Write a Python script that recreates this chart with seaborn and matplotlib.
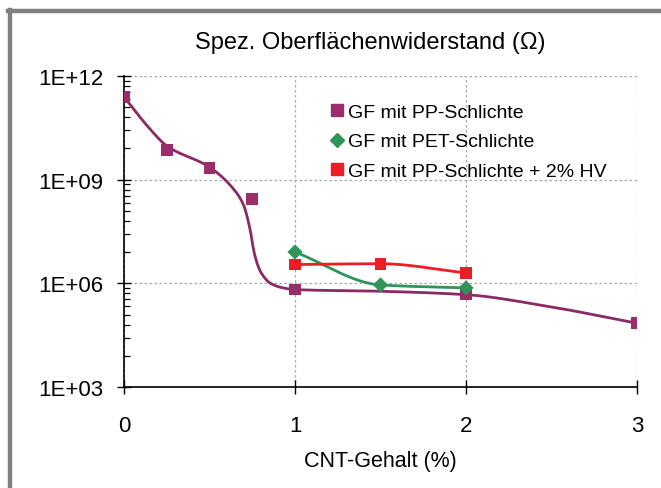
import numpy as np
import pandas as pd
import matplotlib
matplotlib.use("Agg")
import matplotlib.pyplot as plt
import matplotlib.ticker as mticker
from matplotlib.lines import Line2D
import seaborn as sns

# ---- data ----
pp_x = [0, 0.25, 0.5, 0.75, 1, 2, 3]
pp_y = [2.5e11, 7.2e9, 2.2e9, 2.8e8, 6.6e5, 5.0e5, 7.0e4]
pet_x = [1, 1.5, 2]
pet_y = [8.1e6, 9.0e5, 7.4e5]
hv_x = [1, 1.5, 2]
hv_y = [3.5e6, 3.7e6, 2.0e6]
# smoothed trend line for PP series
pp_curve_x = [0, 0.15, 0.25, 0.5, 0.64, 0.70, 0.74, 0.76, 0.80, 0.86, 0.93, 1.0, 1.5, 2.0, 2.47, 3.0]
pp_curve_y = [2.5e11, 3.0e10, 9.5e9, 2.3e9, 5.4e8, 1.8e8, 3.1e7, 8.1e6, 2.1e6, 9.8e5, 7.4e5, 6.6e5, 5.9e5, 4.7e5, 2.2e5, 7.0e4]

labels = ["GF mit PP-Schlichte", "GF mit PET-Schlichte", "GF mit PP-Schlichte + 2% HV"]
title = "Spez. Oberflächenwiderstand (\u03a9)"
xlabel = "CNT-Gehalt (%)"
y_ticks = [1e3, 1e6, 1e9, 1e12]
y_ticklabels = ["1E+03", "1E+06", "1E+09", "1E+12"]
x_ticks = [0, 1, 2, 3]

c_pp = "#9B2D6A"
c_pp_line = "#8A2A64"
c_pet = "#2E9457"
c_hv = "#EE1C25"


def pchip(x, y, xs):
    x = np.asarray(x, float); y = np.asarray(y, float)
    h = np.diff(x); d = np.diff(y) / h
    n = len(x)
    m = np.zeros(n)
    m[0] = d[0]; m[-1] = d[-1]
    for k in range(1, n - 1):
        if d[k - 1] * d[k] <= 0:
            m[k] = 0
        else:
            w1 = 2 * h[k] + h[k - 1]; w2 = h[k] + 2 * h[k - 1]
            m[k] = (w1 + w2) / (w1 / d[k - 1] + w2 / d[k])
    out = np.empty_like(xs)
    for i, xv in enumerate(xs):
        k = min(np.searchsorted(x, xv, side="right") - 1, n - 2)
        k = max(k, 0)
        t = (xv - x[k]) / h[k]
        h00 = 2*t**3 - 3*t**2 + 1; h10 = t**3 - 2*t**2 + t
        h01 = -2*t**3 + 3*t**2; h11 = t**3 - t**2
        out[i] = h00*y[k] + h10*h[k]*m[k] + h01*y[k+1] + h11*h[k]*m[k+1]
    return out


def smooth(x, y, n=300):
    xs = np.linspace(min(x), max(x), n)
    ys = 10 ** pchip(x, np.log10(y), xs)
    return pd.DataFrame({"x": xs, "y": ys})


plt.rcParams["font.family"] = ["Liberation Sans", "DejaVu Sans"]
fig = plt.figure(figsize=(6.61, 4.89), dpi=100)
ax = fig.add_axes([0.1876, 0.2065, 0.7761, 0.636])

sns.lineplot(data=smooth(pp_curve_x, pp_curve_y), x="x", y="y", ax=ax, color=c_pp_line,
             lw=2.0, sort=False, estimator=None, zorder=3)
sns.lineplot(data=smooth(pet_x, pet_y), x="x", y="y", ax=ax, color=c_pet,
             lw=2.0, sort=False, estimator=None, zorder=3)
sns.lineplot(data=smooth(hv_x, hv_y), x="x", y="y", ax=ax, color=c_hv,
             lw=2.0, sort=False, estimator=None, zorder=3)

sns.scatterplot(x=pp_x, y=pp_y, ax=ax, marker="s", s=72, color=c_pp, edgecolor="none", zorder=4)
sns.scatterplot(x=pet_x, y=pet_y, ax=ax, marker="D", s=60, color=c_pet, edgecolor="none", zorder=4)
sns.scatterplot(x=hv_x, y=hv_y, ax=ax, marker="s", s=72, color=c_hv, edgecolor="none", zorder=4)

ax.set_yscale("log")
ax.set_xlim(0, 3)
ax.set_ylim(1e3, 1e12)
ax.set_yticks(y_ticks)
ax.set_yticklabels(y_ticklabels)
# Excel-style minor ticks on a base-1000 log axis: 1000^n * k^3
minor = [10.0 ** (3 * n) * k ** 3 for n in range(1, 4) for k in range(2, 10)]
ax.yaxis.set_minor_locator(mticker.FixedLocator(minor))
ax.yaxis.set_minor_formatter(mticker.NullFormatter())
ax.set_xticks(x_ticks)
ax.set_xticklabels([str(v) for v in x_ticks])
ax.tick_params(axis="both", which="major", direction="inout", length=10, width=1, labelsize=16, color="black")
ax.tick_params(axis="x", which="major", pad=15)
ax.tick_params(axis="y", which="major", pad=10)
ax.tick_params(axis="y", which="minor", direction="in", length=4, width=0.9)

ax.grid(True, which="major", linestyle=(0, (2, 2)), color="#A8A8A8", linewidth=0.9)
ax.set_axisbelow(True)
for s in ["top", "right"]:
    ax.spines[s].set_visible(False)
for s in ["left", "bottom"]:
    ax.spines[s].set_color("black")
    ax.spines[s].set_linewidth(1.2)

ax.set_xlabel(xlabel, fontsize=15.5, labelpad=10)
ax.set_ylabel("")
fig.text(0.56, 0.912, title, ha="center", va="center", fontsize=17)

handles = [
    Line2D([], [], marker="s", color=c_pp, ls="none", markersize=8.4),
    Line2D([], [], marker="D", color=c_pet, ls="none", markersize=7.6),
    Line2D([], [], marker="s", color=c_hv, ls="none", markersize=8.4),
]
ax.legend(handles, labels, loc="upper left", bbox_to_anchor=(0.381, 0.938), frameon=False,
          fontsize=14, handletextpad=0.05, labelspacing=0.62, handlelength=1.0, borderaxespad=0)

# gray frame (top and left)
fig.add_artist(Line2D([0.012, 1.0], [0.975, 0.975], transform=fig.transFigure, color="#808080", lw=3.2))
fig.add_artist(Line2D([0.0145, 0.0145], [0.0, 0.978], transform=fig.transFigure, color="#808080", lw=3.2))

fig.savefig("out.png", dpi=100)
